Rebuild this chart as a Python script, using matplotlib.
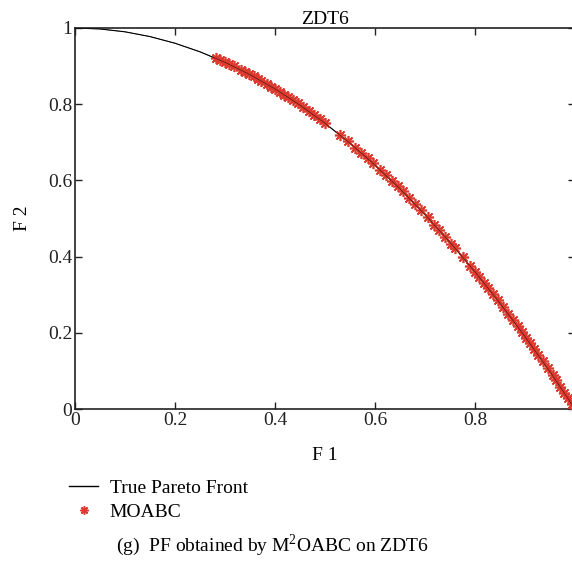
import matplotlib
matplotlib.use("Agg")
import matplotlib.pyplot as plt
from matplotlib.lines import Line2D

plt.rcParams['font.family'] = ['Liberation Serif', 'DejaVu Serif']
plt.rcParams['mathtext.fontset'] = 'custom'
plt.rcParams['mathtext.rm'] = 'Liberation Serif'

# true Pareto front
front_f1 = [0.0, 0.05, 0.1, 0.15, 0.2, 0.25, 0.3, 0.35, 0.4, 0.45, 0.5,
            0.55, 0.6, 0.65, 0.7, 0.75, 0.8, 0.85, 0.9, 0.95, 1.0]
front_f2 = [1.0, 0.9975, 0.99, 0.9775, 0.96, 0.9375, 0.91, 0.8775, 0.84, 0.7975, 0.75,
            0.6975, 0.64, 0.5775, 0.51, 0.4375, 0.36, 0.2775, 0.19, 0.0975, 0.0]

# MOABC solutions
moabc_f1 = [0.282, 0.290, 0.300, 0.308, 0.318, 0.332, 0.340, 0.348, 0.357, 0.365,
            0.372, 0.384, 0.392, 0.400, 0.410, 0.418, 0.425, 0.436, 0.445, 0.455,
            0.468, 0.478, 0.490, 0.500, 0.530, 0.545, 0.560, 0.572, 0.585, 0.596,
            0.610, 0.622, 0.634, 0.645, 0.655, 0.668, 0.680, 0.692, 0.705, 0.718,
            0.728, 0.740, 0.752, 0.760, 0.775, 0.790, 0.800, 0.808, 0.818, 0.826,
            0.835, 0.845, 0.855, 0.866, 0.875, 0.885, 0.893, 0.902, 0.910, 0.918,
            0.926, 0.935, 0.945, 0.955, 0.962, 0.970, 0.978, 0.986, 0.993, 0.999]
moabc_f2 = [0.920, 0.916, 0.910, 0.905, 0.899, 0.890, 0.884, 0.879, 0.873, 0.867,
            0.862, 0.853, 0.846, 0.840, 0.832, 0.825, 0.819, 0.810, 0.802, 0.793,
            0.781, 0.772, 0.760, 0.750, 0.719, 0.703, 0.686, 0.673, 0.658, 0.645,
            0.628, 0.613, 0.598, 0.584, 0.571, 0.554, 0.538, 0.521, 0.503, 0.484,
            0.470, 0.452, 0.434, 0.422, 0.399, 0.376, 0.360, 0.347, 0.331, 0.318,
            0.303, 0.286, 0.269, 0.250, 0.234, 0.217, 0.203, 0.186, 0.172, 0.157,
            0.143, 0.126, 0.107, 0.088, 0.075, 0.059, 0.043, 0.028, 0.014, 0.002]

xticks = [0, 0.2, 0.4, 0.6, 0.8]
yticks = [0, 0.2, 0.4, 0.6, 0.8, 1]
red = '#dc3a2e'
asterisk = (8, 2, 0)
fs = 14

fig = plt.figure(figsize=(5.72, 5.63), dpi=100)
ax = fig.add_axes([75 / 572, 1 - 409 / 563, 500 / 572, 381 / 563])

ax.plot(front_f1, front_f2, color='black', lw=0.8, zorder=2)
ax.plot(moabc_f1, moabc_f2, ls='none', marker=asterisk, ms=8, mew=1.2,
        color=red, zorder=3)
ax.plot(front_f1, front_f2, color='black', lw=0.5, alpha=0.6, zorder=4)

ax.set_xlim(0, 1)
ax.set_ylim(0, 1)
ax.set_xticks(xticks)
ax.set_xticklabels(['0', '0.2', '0.4', '0.6', '0.8'])
ax.set_yticks(yticks)
ax.set_yticklabels(['0', '0.2', '0.4', '0.6', '0.8', '1'])
ax.tick_params(direction='in', top=True, right=True, length=5, width=1,
               labelsize=fs, pad=2, colors='#222222')
for s in ax.spines.values():
    s.set_linewidth(1.2)
    s.set_color('#222222')

ax.set_title('ZDT6', fontsize=fs, pad=3)
ax.set_xlabel('F 1', fontsize=fs, labelpad=13)
ax.set_ylabel('F 2', fontsize=fs, labelpad=12)

handles = [Line2D([], [], color='black', lw=1),
           Line2D([], [], ls='none', marker=asterisk, ms=6, mew=1.1, color=red)]
fig.legend(handles, ['True Pareto Front', 'MOABC'], loc='upper left',
           bbox_to_anchor=(69 / 572, 1 - 479 / 563), frameon=False, borderpad=0,
           borderaxespad=0, fontsize=fs, handlelength=1.5, handletextpad=0.6,
           labelspacing=0.35)

fig.text(272 / 572, 1 - 545 / 563, '(g)  PF obtained by M$^2$OABC on ZDT6',
         ha='center', va='center', fontsize=fs)

fig.savefig('out.png', dpi=100)
